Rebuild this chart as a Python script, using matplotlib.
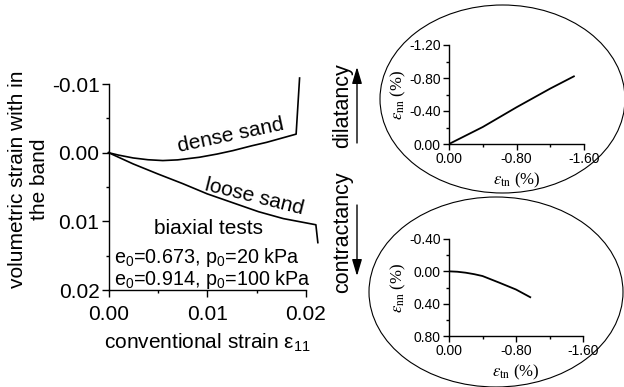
import matplotlib
matplotlib.use("Agg")
import matplotlib.pyplot as plt
from matplotlib.patches import Ellipse, FancyArrowPatch
from matplotlib.ticker import MultipleLocator, FormatStrFormatter

plt.rcParams['font.family'] = ['Liberation Sans', 'DejaVu Sans']
plt.rcParams['mathtext.fontset'] = 'custom'
plt.rcParams['mathtext.rm'] = 'Liberation Sans'
plt.rcParams['mathtext.it'] = 'Liberation Sans:italic'

# Main plot: volumetric strain in the shear band vs conventional strain
dense_x = [0.0, 0.001, 0.0025, 0.004, 0.0055, 0.007, 0.0092, 0.011, 0.0126,
           0.0145, 0.016, 0.0175, 0.019, 0.01935]
dense_y = [0.0, 0.00035, 0.00077, 0.00103, 0.00115, 0.00105, 0.00067, 0.0002, -0.0003,
           -0.0010, -0.0015, -0.0021, -0.0027, -0.01087]
loose_x = [0.0, 0.0025, 0.005, 0.0075, 0.01, 0.0126, 0.0152, 0.0177, 0.021, 0.0212]
loose_y = [0.0, 0.00164, 0.0031, 0.0045, 0.0060, 0.0073, 0.0086, 0.0096, 0.0105, 0.0131]

# Insets: normal vs tangential strain in the band (%)
dil_x = [0.0, -0.4, -0.8, -1.2, -1.48]
dil_y = [0.0, -0.206, -0.445, -0.672, -0.82]
con_x = [0.0, -0.1, -0.2, -0.3, -0.4, -0.6, -0.8, -0.97]
con_y = [0.0, 0.005, 0.017, 0.035, 0.058, 0.14, 0.225, 0.32]

W, H = 624, 387
fig = plt.figure(figsize=(W / 100, H / 100), dpi=100)


def fx(px):
    return px / W


def fy(py):
    return 1 - py / H


FS = 15

ax = fig.add_axes([fx(108.5), fy(290), fx(306) - fx(108.5), fy(84) - fy(290)])
ax.plot(dense_x, dense_y, color='black', lw=1.2, clip_on=False)
ax.plot(loose_x, loose_y, color='black', lw=1.2, clip_on=False)
ax.set_xlim(0, 0.02)
ax.set_ylim(0.02, -0.01)
for s in ('top', 'right'):
    ax.spines[s].set_visible(False)
for s in ('left', 'bottom'):
    ax.spines[s].set_linewidth(1.0)
ax.xaxis.set_major_locator(MultipleLocator(0.01))
ax.xaxis.set_minor_locator(MultipleLocator(0.005))
ax.yaxis.set_major_locator(MultipleLocator(0.01))
ax.yaxis.set_minor_locator(MultipleLocator(0.005))
ax.xaxis.set_major_formatter(FormatStrFormatter('%.2f'))
ax.yaxis.set_major_formatter(FormatStrFormatter('%.2f'))
ax.tick_params(which='major', direction='out', length=5, width=1.0, labelsize=FS)
ax.tick_params(axis='x', which='major', pad=6)
ax.tick_params(axis='y', which='major', pad=1.5)
ax.tick_params(which='minor', direction='out', length=2.5, width=1.0)
ax.set_xlabel('conventional strain ε$_\\mathregular{11}$', fontsize=FS)
ax.xaxis.set_label_coords(0.5, -0.20)
ax.set_ylabel('volumetric strain with in\nthe band', fontsize=FS, linespacing=1.2)
ax.yaxis.set_label_coords(-0.30, 0.54)

ax.text(0.0124, -0.0025, 'dense sand', fontsize=FS, rotation=12, ha='center', va='center')
ax.text(0.0148, 0.0065, 'loose sand', fontsize=FS, rotation=-14, ha='center', va='center')
ax.text(0.0101, 0.0110, 'biaxial tests', fontsize=FS, ha='center', va='center')
ax.text(0.0006, 0.0152, 'e$_\\mathregular{0}$=0.673, p$_\\mathregular{0}$=20 kPa',
        fontsize=14.2, ha='left', va='center')
ax.text(0.0006, 0.0184, 'e$_\\mathregular{0}$=0.914, p$_\\mathregular{0}$=100 kPa',
        fontsize=14.2, ha='left', va='center')

# Ellipse frames around the insets
fig.add_artist(Ellipse((fx(502.5), fy(99)), 245 / W, 188 / H, transform=fig.transFigure,
                       fill=False, ec='black', lw=0.8))
fig.add_artist(Ellipse((fx(496), fy(292)), 254 / W, 190 / H, transform=fig.transFigure,
                       fill=False, ec='black', lw=0.8))

# Direction arrows with captions
fig.text(fx(343), fy(106), 'dilatancy', rotation=90, fontsize=15.5, ha='center', va='center')
fig.text(fx(343), fy(232), 'contractancy', rotation=90, fontsize=15.5, ha='center', va='center')
fig.add_artist(FancyArrowPatch(
    (fx(357), fy(143)), (fx(357), fy(67)), transform=fig.transFigure,
    arrowstyle='-|>,head_length=10,head_width=3', color='black', lw=1.0,
    shrinkA=0, shrinkB=0))
fig.add_artist(FancyArrowPatch(
    (fx(357), fy(205)), (fx(357), fy(276)), transform=fig.transFigure,
    arrowstyle='-|>,head_length=10,head_width=3', color='black', lw=1.0,
    shrinkA=0, shrinkB=0))


def style_inset(a):
    for s in ('top', 'right'):
        a.spines[s].set_visible(False)
    for s in ('left', 'bottom'):
        a.spines[s].set_linewidth(1.0)
    a.set_xlim(0, -1.6)
    a.xaxis.set_major_locator(MultipleLocator(0.8))
    a.xaxis.set_minor_locator(MultipleLocator(0.4))
    a.yaxis.set_major_locator(MultipleLocator(0.4))
    a.yaxis.set_minor_locator(MultipleLocator(0.2))
    a.xaxis.set_major_formatter(FormatStrFormatter('%.2f'))
    a.yaxis.set_major_formatter(FormatStrFormatter('%.2f'))
    a.tick_params(which='major', direction='out', length=4, width=1.0, labelsize=10, pad=2)
    a.tick_params(which='minor', direction='out', length=2, width=1.0)
    a.set_xlabel(r'$\varepsilon_{\rm tn}$ (%)', fontsize=12, family='Liberation Serif',
                 math_fontfamily='stix', labelpad=3)
    a.set_ylabel(r'$\varepsilon_{\rm nn}$ (%)', fontsize=12, family='Liberation Serif',
                 math_fontfamily='stix', labelpad=1)


ax1 = fig.add_axes([fx(449), fy(144), fx(584) - fx(449), fy(45) - fy(144)])
ax1.plot(dil_x, dil_y, color='black', lw=1.3)
ax1.set_ylim(0, -1.2)
style_inset(ax1)

ax2 = fig.add_axes([fx(449), fy(336), fx(583) - fx(449), fy(239) - fy(336)])
ax2.plot(con_x, con_y, color='black', lw=1.3)
ax2.set_ylim(0.8, -0.4)
style_inset(ax2)

fig.savefig('out.png', dpi=100)
